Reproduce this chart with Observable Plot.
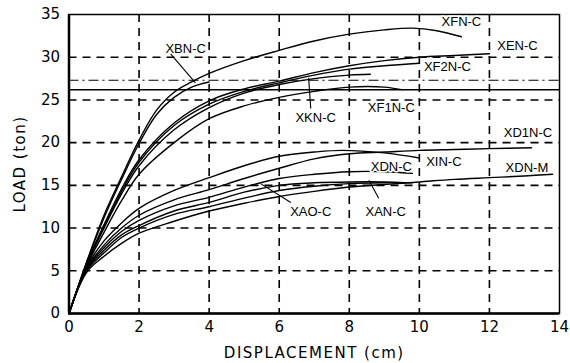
<!DOCTYPE html>
<html><head><meta charset="utf-8">
<script src="https://cdn.jsdelivr.net/npm/d3@7"></script>
<script src="https://cdn.jsdelivr.net/npm/@observablehq/plot@0.6"></script>
<style>
body{margin:0;background:#fff;}
#chart svg{font-family:"DejaVu Sans",sans-serif;}
[aria-label="x-axis label"] text,[aria-label="y-axis label"] text{letter-spacing:1.5px;}
</style></head>
<body><div id="chart"></div>
<script>
// ---- data ----
const xTicks = [0, 2, 4, 6, 8, 10, 12, 14];
const yTicks = [0, 5, 10, 15, 20, 25, 30, 35];

// upper group
const XFN_C  = [[0,0],[0.5,6.0],[1,11.5],[1.5,16.0],[2,20.3],[2.5,23.8],[3,25.9],[3.5,27.1],[4,28.1],[5,29.6],[6,30.8],[7,31.9],[8,32.7],[9,33.2],[9.8,33.4],[10.5,33.1],[11.2,32.4]];
const XBN_C  = [[0,0],[0.5,5.9],[1,11.2],[1.5,15.7],[2,19.9],[2.5,23.3],[3,25.3],[3.5,26.5],[4,27.1]];
const XEN_C  = [[0,0],[0.5,5.8],[1,10.4],[1.5,14.6],[2,18.0],[3,22.3],[4,24.9],[5,26.3],[6,27.2],[7,28.2],[8,29.0],[9,29.6],[10,30.0],[11,30.2],[12,30.4]];
const XF2N_C = [[0,0],[0.5,5.7],[1,10.2],[1.5,14.3],[2,17.7],[3,22.0],[4,24.5],[5,26.0],[6,27.0],[7,27.9],[8,28.6],[9,29.0],[10,29.3]];
const XKN_C  = [[0,0],[0.5,5.6],[1,10.0],[1.5,14.0],[2,17.3],[3,21.5],[4,24.1],[5,25.8],[6,26.8],[7,27.5],[8,27.9],[8.6,28.0]];
const XF1N_C = [[0,0],[0.5,5.5],[1,9.5],[1.5,13.2],[2,16.3],[3,20.0],[4,22.8],[5,24.3],[6,25.3],[7,26.0],[8,26.5],[9,26.5],[9.5,26.2]];
// lower group
const XIN_C  = [[0,0],[0.5,5.4],[1,8.5],[1.5,10.6],[2,12.3],[3,14.4],[4,15.9],[5,17.3],[6,18.4],[7,18.9],[7.8,19.1],[9,18.8],[10,18.2]];
const XD1N_C = [[0,0],[0.5,5.3],[1,8.0],[1.5,10.0],[2,11.5],[3,13.3],[4,14.5],[5,15.8],[6,17.0],[7,18.1],[8,18.7],[9,18.9],[10,19.1],[11,19.2],[12,19.3],[13.2,19.4]];
const XDN_C  = [[0,0],[0.5,5.2],[1,7.7],[1.5,9.6],[2,10.9],[3,12.6],[4,13.6],[5,14.8],[6,15.8],[7,16.3],[8,16.6],[9,16.6],[9.8,16.4]];
const XAO_C  = [[0,0],[0.5,5.1],[1,7.4],[1.5,9.2],[2,10.3],[3,12.0],[4,13.0],[5,14.2],[6,15.0],[7,15.3],[8,15.4],[9,15.4],[9.6,15.3]];
const XAN_C  = [[0,0],[0.5,5.0],[1,7.1],[1.5,8.9],[2,10.0],[3,11.6],[4,12.5],[5,13.5],[6,14.4],[7,14.9],[8,15.2],[9,15.3],[9.8,15.3]];
const XDN_M  = [[0,0],[0.5,4.8],[1,6.7],[1.5,8.2],[2,9.4],[3,10.8],[4,12.0],[5,12.9],[6,13.7],[7,14.3],[8,14.8],[9,15.1],[10,15.4],[11,15.7],[12,15.9],[13,16.1],[13.8,16.3]];

const seriesNames = ["XFN-C","XBN-C","XEN-C","XF2N-C","XKN-C","XF1N-C","XIN-C","XD1N-C","XDN-C","XAO-C","XAN-C","XDN-M"];
const seriesData  = [XFN_C, XBN_C, XEN_C, XF2N_C, XKN_C, XF1N_C, XIN_C, XD1N_C, XDN_C, XAO_C, XAN_C, XDN_M];

// reference levels
const solidLevel = [26.2];
const dashDotLevel = [27.3];

// labels: [name, x, y]
const labelPos = [["XBN-C",3.33,31.0],["XFN-C",11.2,34.1],["XEN-C",12.8,31.3],["XF2N-C",10.8,28.9],["XKN-C",7.04,22.9],["XF1N-C",9.2,24.1],["XD1N-C",13.1,21.2],["XDN-C",9.2,17.2],["XIN-C",10.7,17.7],["XDN-M",13.07,17.1],["XAO-C",6.9,11.9],["XAN-C",9.04,11.9]];
// leader lines: [x1,y1,x2,y2]
const leaders = [[2.9,30.4,3.61,27.0],[6.9,24.0,6.84,27.6],[6.33,13.0,5.47,15.2],[8.84,13.5,8.56,15.6]];

// ---- build table ----
const rows = [];
seriesNames.forEach((n, i) => seriesData[i].forEach(([x, y]) => rows.push({series: n, x, y})));
const labels = labelPos.map(([t, x, y]) => ({t, x, y}));
const leaderRows = leaders.map(([x1, y1, x2, y2]) => ({x1, y1, x2, y2}));

const chart = Plot.plot({
  width: 570, height: 363,
  marginLeft: 68.5, marginRight: 11, marginTop: 14, marginBottom: 50,
  style: {fontFamily: "DejaVu Sans, sans-serif", fontSize: "14px", color: "#000", background: "#fff"},
  x: {domain: [0, 14]},
  y: {domain: [0, 35]},
  marks: [
    Plot.ruleX(xTicks.slice(1, -1), {stroke: "#000", strokeWidth: 1.6, strokeDasharray: "8,6"}),
    Plot.ruleY(yTicks.slice(1, -1), {stroke: "#000", strokeWidth: 1.6, strokeDasharray: "8,6"}),
    Plot.ruleY(solidLevel, {stroke: "#000", strokeWidth: 1.4}),
    Plot.ruleY(dashDotLevel, {stroke: "#000", strokeWidth: 1.1, strokeDasharray: "10,4,2,4"}),
    Plot.frame({stroke: "#000", strokeWidth: 1.5}),
    Plot.ruleX([0], {stroke: "#000", strokeWidth: 2.5}),
    Plot.ruleY([0], {stroke: "#000", strokeWidth: 2.5}),
    Plot.line(rows, {x: "x", y: "y", z: "series", stroke: "#000", strokeWidth: 1.4, curve: "catmull-rom"}),
    Plot.link(leaderRows, {x1: "x1", y1: "y1", x2: "x2", y2: "y2", stroke: "#000", strokeWidth: 1.1}),
    Plot.text(labels, {x: "x", y: "y", text: "t", fontSize: 13, fill: "#000", stroke: "#fff", strokeWidth: 3, paintOrder: "stroke", fontFamily: "Liberation Sans, sans-serif"}),
    Plot.axisX({ticks: xTicks, tickSize: 0, tickPadding: 8, fontSize: 15, label: "DISPLACEMENT (cm)", labelAnchor: "center", labelOffset: 44, labelArrow: "none"}),
    Plot.axisY({ticks: yTicks, tickSize: 0, tickPadding: 9, fontSize: 15, label: "LOAD (ton)", labelAnchor: "center", labelOffset: 55, labelArrow: "none"})
  ]
});
document.getElementById("chart").appendChild(chart);
</script></body></html>
